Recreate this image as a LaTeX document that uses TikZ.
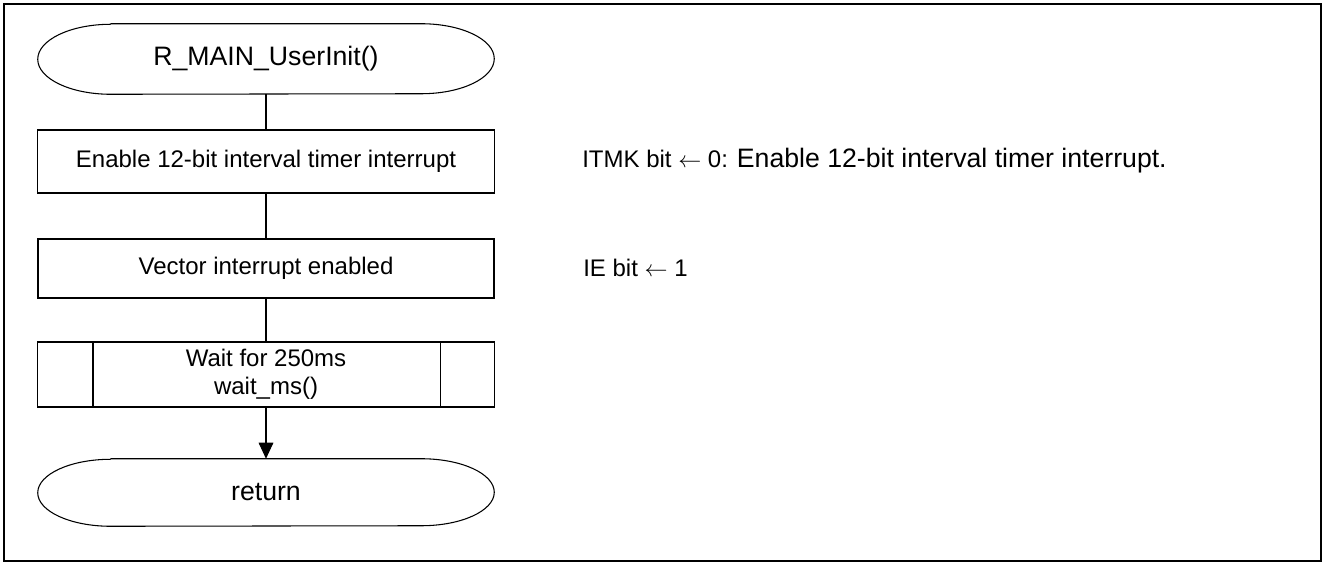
\documentclass[tikz,border=0pt]{standalone}
\usepackage{fontspec}
\setmainfont{Liberation Sans}
\usetikzlibrary{arrows.meta}
\tikzset{
  boxtext/.style={font=\fontsize{18}{21}\selectfont},
  termtext/.style={font=\fontsize{20}{24}\selectfont},
  procbox/.style={draw, line width=0.8pt, boxtext, align=center, inner sep=0pt},
  termbox/.style={draw=none, termtext, inner sep=0pt},
  termline/.style={line width=0.8pt},
  conn/.style={line width=0.8pt},
  note/.style={anchor=west, inner sep=0pt, boxtext},
}
\newcommand{\larr}{{\fontsize{16}{16}\selectfont$\leftarrow$}}
\newcommand{\termoutline}[1]{%
  \draw[termline] ([xshift=54.75pt]#1.north west) -- ([xshift=-54.75pt]#1.north east)
    arc[start angle=90, end angle=-90, x radius=54.75pt, y radius=0.5*\termh]
    -- ([xshift=54.75pt]#1.south west)
    arc[start angle=270, end angle=90, x radius=54.75pt, y radius=0.5*\termh];}
\begin{document}
\begin{tikzpicture}[x=0.75pt, y=-0.75pt]
\useasboundingbox (0,0) rectangle (1325,565);
\draw[line width=1.1pt] (4,4) rectangle (1321,561);

\node[termbox, minimum width=342pt, minimum height=52.5pt] (start) at (266,59) {R\_MAIN\_UserInit()};
\def\termh{52.5pt}\termoutline{start}

\node[procbox, minimum width=342.75pt, minimum height=47.25pt] (b1) at (266,161.5) {Enable 12-bit interval timer interrupt};
\node[procbox, minimum width=342pt, minimum height=44.25pt] (b2) at (266,268.5) {Vector interrupt enabled};
\node[procbox, minimum width=342.75pt, minimum height=48.75pt] (b3) at (266,374.5) {Wait for 250ms\\wait\_ms()};
\draw[conn] ([xshift=42pt]b3.north west) -- ([xshift=42pt]b3.south west);
\draw[conn] ([xshift=-41.25pt]b3.north east) -- ([xshift=-41.25pt]b3.south east);

\node[termbox, minimum width=342pt, minimum height=50.25pt] (ret) at (266,492.5) {return};
\def\termh{50.25pt}\termoutline{ret}

\draw[conn] (start.south) -- (b1.north);
\draw[conn] (b1.south) -- (b2.north);
\draw[conn] (b2.south) -- (b3.north);
\draw[conn, -{Triangle[width=11pt,length=12pt]}] (b3.south) -- (ret.north);

\node[note] (n1) at (582,161) {ITMK bit \larr{} 0: {\fontsize{20}{24}\selectfont Enable 12-bit interval timer interrupt.}};
\node[note] (n2) at (583,268) {IE bit \larr{} 1};
\end{tikzpicture}
\end{document}
